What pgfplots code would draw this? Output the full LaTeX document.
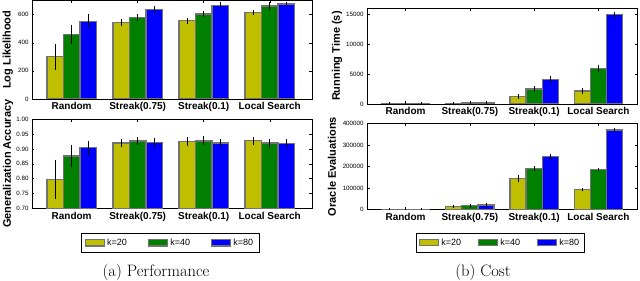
\documentclass[border=0pt]{standalone}
\usepackage{pgfplots}
\pgfplotsset{compat=1.18}
\usepackage{fontspec}
\newfontfamily\arial{Liberation Sans}
\definecolor{ky}{rgb}{0.75,0.75,0}
\definecolor{kg}{rgb}{0,0.5,0}
\definecolor{kb}{rgb}{0,0,1}
\definecolor{edge}{gray}{0.45}
\pgfplotsset{
  base/.style={
    scale only axis, ybar, bar width=0.25,
    xtick={0,1,2,3},
    xticklabels={Random,Streak(0.75),Streak(0.1),Local Search},
    xticklabel style={font=\arial\bfseries\fontsize{10}{12}\selectfont},
    yticklabel style={font=\arial\fontsize{6.2}{7}\selectfont},
    scaled y ticks=false,
    /pgf/number format/assume math mode=true,
    /pgf/number format/1000 sep={},
    /pgf/number format/fixed,
    tick align=inside, tick pos=both,
    major tick length=2.5pt,
    tick style={black, line width=0.4pt},
    axis line style={black, line width=0.6pt},
    ylabel style={font=\arial\bfseries\fontsize{11}{13}\selectfont, anchor=center},
    ymin=0,
    legend image code/.code={\draw[#1] (0pt,-3.2pt) rectangle (19pt,3.2pt);},
    legend style={draw=black, line width=0.6pt, legend columns=3,
      font=\arial\fontsize{9}{11}\selectfont, anchor=center,
      /tikz/every even column/.append style={column sep=19pt},
      inner xsep=4pt, inner ysep=3.5pt},
  },
  bk/.style 2 args={fill=#1, draw=edge, line width=1.3pt, bar shift=#2,
    error bars/.cd, y dir=both, y explicit,
    error bar style={black, line width=0.6pt, solid},
    error mark options={black, mark size=1.5pt, line width=0.6pt}},
}
\begin{document}
\begin{tikzpicture}
\useasboundingbox (0,0) rectangle (640pt,281pt);
% ---------------- Log likelihood
\begin{axis}[base, at={(32pt,182pt)}, anchor=south west,
  width=280pt, height=98.5pt, xmin=-0.6, xmax=3.64,
  ymax=700, ytick={0,200,400,600},
  ylabel={Log Likelihood}, ylabel style={at={(axis description cs:-0.086,0.5)}}]
\addplot[bk={ky}{-0.25}] coordinates {(0,301) +- (0,82) (1,545) +- (0,15) (2,557) +- (0,11) (3,614) +- (0,8)};
\addplot[bk={kg}{0}] coordinates {(0,458) +- (0,59) (1,579) +- (0,14) (2,605) +- (0,11) (3,661) +- (0,15)};
\addplot[bk={kb}{0.25}] coordinates {(0,552) +- (0,38) (1,635) +- (0,13) (2,666) +- (0,11) (3,676) +- (0,5)};
\end{axis}
% ---------------- Generalization accuracy
\begin{axis}[base, at={(32pt,72.7pt)}, anchor=south west,
  width=280pt, height=89pt, xmin=-0.6, xmax=3.64,
  ymin=0.70, ymax=1.00, ytick={0.70,0.75,0.80,0.85,0.90,0.95,1.00},
  yticklabel style={/pgf/number format/.cd, fixed, fixed zerofill, precision=2},
  ylabel={Generalization Accuracy}, ylabel style={at={(axis description cs:-0.086,0.5)}},
  legend style={at={(0.493,-0.388)}}]
\addplot[bk={ky}{-0.25}] coordinates {(0,0.797) +- (0,0.062) (1,0.920) +- (0,0.009) (2,0.924) +- (0,0.010) (3,0.928) +- (0,0.008)};
\addplot[bk={kg}{0}] coordinates {(0,0.876) +- (0,0.031) (1,0.927) +- (0,0.008) (2,0.927) +- (0,0.010) (3,0.920) +- (0,0.010)};
\addplot[bk={kb}{0.25}] coordinates {(0,0.904) +- (0,0.018) (1,0.922) +- (0,0.010) (2,0.920) +- (0,0.008) (3,0.918) +- (0,0.010)};
\legend{k=20,k=40,k=80}
\end{axis}
% ---------------- Running time
\begin{axis}[base, at={(367pt,177pt)}, anchor=south west,
  width=270pt, height=95.7pt, xmin=-0.6, xmax=3.6,
  ymax=16000, ytick={0,5000,10000,15000},
  ylabel={Running Time (s)}, ylabel style={at={(axis description cs:-0.111,0.5)}}]
\addplot[bk={ky}{-0.25}] coordinates {(0,5) +- (0,1) (1,90) +- (0,15) (2,1250) +- (0,200) (3,2180) +- (0,200)};
\addplot[bk={kg}{0}] coordinates {(0,8) +- (0,1) (1,170) +- (0,20) (2,2520) +- (0,260) (3,5930) +- (0,300)};
\addplot[bk={kb}{0.25}] coordinates {(0,12) +- (0,2) (1,250) +- (0,30) (2,4140) +- (0,300) (3,14950) +- (0,250)};
\end{axis}
% ---------------- Oracle evaluations
\begin{axis}[base, at={(367pt,71.3pt)}, anchor=south west,
  width=270pt, height=86.4pt, xmin=-0.6, xmax=3.6,
  ymax=400000, ytick={0,100000,200000,300000,400000},
  yticklabel style={/pgf/number format/.cd, fixed, precision=0},
  ylabel={Oracle Evaluations}, ylabel style={at={(axis description cs:-0.130,0.5)}},
  legend style={at={(0.493,-0.38)}, /tikz/every even column/.append style={column sep=15pt}, inner xsep=3pt}]
\addplot[bk={ky}{-0.25}] coordinates {(0,0) +- (0,0) (1,16000) +- (0,1000) (2,145000) +- (0,10000) (3,93000) +- (0,1000)};
\addplot[bk={kg}{0}] coordinates {(0,0) +- (0,0) (1,18000) +- (0,1000) (2,191000) +- (0,5000) (3,187000) +- (0,1000)};
\addplot[bk={kb}{0.25}] coordinates {(0,0) +- (0,0) (1,22000) +- (0,1000) (2,245000) +- (0,7000) (3,369000) +- (0,1000)};
\legend{k=20,k=40,k=80}
\end{axis}
\node[font=\fontsize{16.5}{19}\selectfont] at (156pt,9pt) {(a) Performance};
\node[font=\fontsize{16.5}{19}\selectfont] at (483pt,9pt) {(b) Cost};
\end{tikzpicture}
\end{document}
